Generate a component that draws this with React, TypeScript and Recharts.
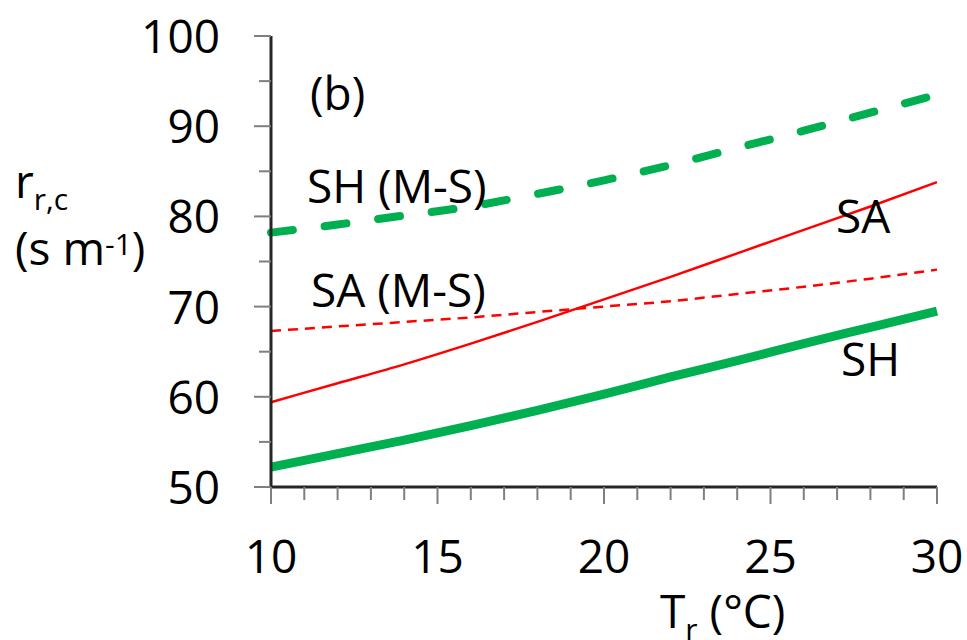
import React from 'react';
import { LineChart, Line, XAxis, YAxis } from 'recharts';

const temps = [10, 12, 14, 16, 18, 20, 22, 24, 26, 28, 30];
const shValues = [52.2, 53.7, 55.2, 56.8, 58.5, 60.3, 62.2, 64.0, 65.9, 67.7, 69.5];
const saValues = [59.4, 61.5, 63.6, 65.9, 68.3, 70.8, 73.3, 75.9, 78.5, 81.1, 83.8];
const saMsValues = [67.3, 67.8, 68.3, 68.8, 69.4, 70.0, 70.6, 71.4, 72.2, 73.1, 74.1];
const shMsValues = [78.2, 79.1, 80.1, 81.1, 82.5, 84.0, 85.7, 87.6, 89.5, 91.5, 93.5];

const xTicks = [10, 11, 12, 13, 14, 15, 16, 17, 18, 19, 20, 21, 22, 23, 24, 25, 26, 27, 28, 29, 30];
const yTicks = [50, 55, 60, 65, 70, 75, 80, 85, 90, 95, 100];

const data = temps.map((t, i) => ({
  t,
  sh: shValues[i],
  sa: saValues[i],
  saMs: saMsValues[i],
  shMs: shMsValues[i],
}));

const FONT = '"Open Sans", sans-serif';
const GREEN = '#00B050';
const RED = '#FF0000';
const TICK_SIZE = 17;
const TICK_MARGIN = 34;

function YTick(props: any) {
  const { x, y, payload } = props;
  const axisX = x + TICK_SIZE + TICK_MARGIN;
  const major = payload.value % 10 === 0;
  return (
    <g>
      <line x1={axisX - (major ? 17 : 12)} x2={axisX} y1={y} y2={y} stroke="#7f7f7f" strokeWidth={2} />
      {major && (
        <text x={x} y={y + 17} textAnchor="end" fontSize={46} fontFamily={FONT} fill="#000">
          {payload.value}
        </text>
      )}
    </g>
  );
}

function XTick(props: any) {
  const { x, y, payload } = props;
  const axisY = y - TICK_SIZE - TICK_MARGIN;
  const major = payload.value % 5 === 0;
  return (
    <g>
      <line x1={x} x2={x} y1={axisY} y2={axisY + (major ? 17 : 13)} stroke="#7f7f7f" strokeWidth={2} />
      {major && (
        <text x={x} y={axisY + 86} textAnchor="middle" fontSize={46} fontFamily={FONT} fill="#000">
          {payload.value}
        </text>
      )}
    </g>
  );
}

export default function App() {
  return (
    <div style={{ position: 'absolute', left: 0, top: 0, width: 967, height: 640, background: '#fff' }}>
      <LineChart width={967} height={640} data={data} margin={{ top: 36, right: 30, bottom: 0, left: 0 }}>
        <XAxis
          dataKey="t"
          type="number"
          domain={[10, 30]}
          ticks={xTicks}
          interval={0}
          height={153}
          tickSize={TICK_SIZE}
          tickMargin={TICK_MARGIN}
          tickLine={false}
          tick={<XTick />}
          axisLine={{ stroke: '#262626', strokeWidth: 3 }}
        />
        <XAxis
          xAxisId="top"
          orientation="top"
          dataKey="t"
          type="number"
          domain={[10, 30]}
          height={0}
          tick={false}
          tickLine={false}
          axisLine={{ stroke: '#000', strokeWidth: 4 }}
        />
        <YAxis
          type="number"
          domain={[50, 100]}
          ticks={yTicks}
          interval={0}
          width={271}
          tickSize={TICK_SIZE}
          tickMargin={TICK_MARGIN}
          tickLine={false}
          tick={<YTick />}
          axisLine={{ stroke: '#262626', strokeWidth: 3 }}
        />
        <YAxis
          yAxisId="right"
          orientation="right"
          type="number"
          domain={[50, 100]}
          width={0}
          tick={false}
          tickLine={false}
          axisLine={{ stroke: '#000', strokeWidth: 4 }}
        />
        <Line type="monotone" dataKey="shMs" stroke={GREEN} strokeWidth={8} strokeDasharray="22 32" strokeLinecap="round" dot={false} isAnimationActive={false} />
        <Line type="monotone" dataKey="saMs" stroke={RED} strokeWidth={2.5} strokeDasharray="10 7" dot={false} isAnimationActive={false} />
        <Line type="monotone" dataKey="sa" stroke={RED} strokeWidth={2.5} dot={false} isAnimationActive={false} />
        <Line type="monotone" dataKey="sh" stroke={GREEN} strokeWidth={9} dot={false} isAnimationActive={false} />
      </LineChart>
      <svg width={967} height={640} style={{ position: 'absolute', left: 0, top: 0, pointerEvents: 'none' }} fontFamily={FONT} fill="#000">
        <text x={15} y={198} fontSize={46}>
          r<tspan fontSize={30} dy={12}>r,c</tspan>
        </text>
        <text x={15} y={265} fontSize={46}>
          (s m<tspan fontSize={30} dy={-10}>-1</tspan>
          <tspan dy={10}>)</tspan>
        </text>
        <text x={660} y={628} fontSize={46}>
          T<tspan fontSize={30} dy={12}>r</tspan>
          <tspan dy={-12}> (°C)</tspan>
        </text>
        <text x={310} y={110} fontSize={46}>(b)</text>
        <text x={307} y={203} fontSize={46}>SH (M-S)</text>
        <text x={311} y={307} fontSize={46}>SA (M-S)</text>
        <text x={836} y={233} fontSize={46}>SA</text>
        <text x={841} y={376} fontSize={46}>SH</text>
      </svg>
    </div>
  );
}
